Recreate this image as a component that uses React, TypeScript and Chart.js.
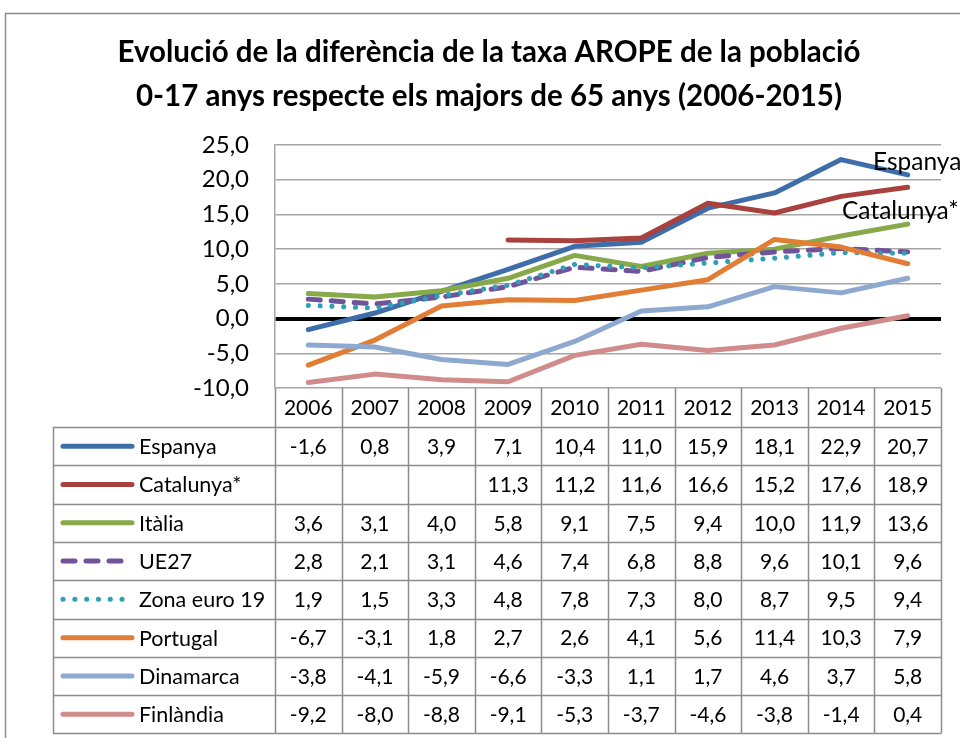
import React, { useEffect, useRef } from "react";
import { Chart, registerables } from "chart.js";

Chart.register(...registerables);

const years = ["2006", "2007", "2008", "2009", "2010", "2011", "2012", "2013", "2014", "2015"];
const espanya = [-1.6, 0.8, 3.9, 7.1, 10.4, 11.0, 15.9, 18.1, 22.9, 20.7];
const catalunya = [null, null, null, 11.3, 11.2, 11.6, 16.6, 15.2, 17.6, 18.9];
const italia = [3.6, 3.1, 4.0, 5.8, 9.1, 7.5, 9.4, 10.0, 11.9, 13.6];
const ue27 = [2.8, 2.1, 3.1, 4.6, 7.4, 6.8, 8.8, 9.6, 10.1, 9.6];
const zonaEuro = [1.9, 1.5, 3.3, 4.8, 7.8, 7.3, 8.0, 8.7, 9.5, 9.4];
const portugal = [-6.7, -3.1, 1.8, 2.7, 2.6, 4.1, 5.6, 11.4, 10.3, 7.9];
const dinamarca = [-3.8, -4.1, -5.9, -6.6, -3.3, 1.1, 1.7, 4.6, 3.7, 5.8];
const finlandia = [-9.2, -8.0, -8.8, -9.1, -5.3, -3.7, -4.6, -3.8, -1.4, 0.4];

const seriesNames = ["Espanya", "Catalunya*", "Itàlia", "UE27", "Zona euro 19", "Portugal", "Dinamarca", "Finlàndia"];
const seriesData = [espanya, catalunya, italia, ue27, zonaEuro, portugal, dinamarca, finlandia];
const seriesColors = ["#3E6DAA", "#A9413F", "#87A94A", "#71539C", "#2F9EB6", "#E17D34", "#8EA9CF", "#D08B8B"];
const seriesDash: number[][] = [[], [], [], [12, 11], [0.1, 11.7], [], [], []];

const titleLines = [
  "Evolució de la diferència de la taxa AROPE de la població",
  "0-17 anys respecte els majors de 65 anys (2006-2015)",
];
const endLabels = ["Espanya", "Catalunya*"];

const Y_MIN = -10;
const Y_MAX = 25;
const Y_STEP = 5;

const FONT = "Lato, 'Open Sans', sans-serif";
const GRID = "#A6A6A6";
const fmt = (v: number) => v.toFixed(1).replace(".", ",");

export default function App() {
  const ref = useRef<HTMLCanvasElement>(null);

  useEffect(() => {
    if (!ref.current) return;

    const TABLE_LEFT = 53;
    const HEADER_H = 39;
    const ROW_H = 38.3;

    const decor = {
      id: "decor",
      beforeDraw(chart: any) {
        const ctx = chart.ctx;
        ctx.save();
        ctx.fillStyle = "#fff";
        ctx.fillRect(0, 0, chart.width, chart.height);
        ctx.strokeStyle = "#8C8C8C";
        ctx.lineWidth = 1.5;
        ctx.beginPath();
        ctx.moveTo(5.5, chart.height + 5);
        ctx.lineTo(5.5, 13.5);
        ctx.lineTo(chart.width + 5, 13.5);
        ctx.stroke();
        // title
        ctx.fillStyle = "#000";
        ctx.font = `bold 29.5px ${FONT}`;
        ctx.textAlign = "center";
        ctx.textBaseline = "middle";
        ctx.fillText(titleLines[0], 489, 52);
        ctx.fillText(titleLines[1], 489, 96);
        ctx.restore();
      },
      afterDraw(chart: any) {
        const ctx = chart.ctx;
        const xs = chart.scales.x;
        const area = chart.chartArea;
        const left = area.left;
        const right = area.right;
        const top = area.bottom;
        const n = years.length;
        const cw = (right - left) / n;
        const tableBottom = top + HEADER_H + ROW_H * seriesNames.length;
        ctx.save();
        // end labels
        ctx.fillStyle = "#000";
        ctx.font = `24.5px ${FONT}`;
        ctx.textAlign = "left";
        ctx.textBaseline = "middle";
        ctx.fillText(endLabels[0], 873, 162);
        ctx.fillText(endLabels[1], 842, 211);

        // table grid
        ctx.strokeStyle = "#8C8C8C";
        ctx.lineWidth = 1.5;
        ctx.beginPath();
        for (let i = 0; i <= n; i++) {
          const x = Math.round(left + i * cw) + 0.5;
          ctx.moveTo(x, top);
          ctx.lineTo(x, tableBottom);
        }
        ctx.moveTo(TABLE_LEFT + 0.5, top + HEADER_H);
        ctx.lineTo(TABLE_LEFT + 0.5, tableBottom);
        for (let r = 0; r <= seriesNames.length; r++) {
          const y = Math.round(top + HEADER_H + r * ROW_H) + 0.5;
          ctx.moveTo(TABLE_LEFT, y);
          ctx.lineTo(right, y);
        }
        ctx.stroke();

        // header
        ctx.font = `21px ${FONT}`;
        ctx.textAlign = "center";
        ctx.fillStyle = "#000";
        years.forEach((yr, i) => {
          ctx.fillText(yr, xs.getPixelForValue(i), top + HEADER_H / 2 + 1);
        });
        // rows
        seriesNames.forEach((name, r) => {
          const cy = top + HEADER_H + r * ROW_H + ROW_H / 2 + 1;
          ctx.save();
          ctx.strokeStyle = seriesColors[r];
          ctx.lineWidth = 5;
          ctx.lineCap = "round";
          ctx.setLineDash(seriesDash[r]);
          ctx.beginPath();
          const x0 = 63;
          const x1 = seriesDash[r].length ? (r === 3 ? 130 : 128) : 132;
          ctx.moveTo(x0, cy - 1);
          ctx.lineTo(x1, cy - 1);
          ctx.stroke();
          ctx.restore();
          ctx.font = `21.5px ${FONT}`;
          ctx.textAlign = "left";
          ctx.fillText(name, 139, cy);
          ctx.font = `21px ${FONT}`;
          ctx.textAlign = "center";
          seriesData[r].forEach((v, i) => {
            if (v === null || v === undefined) return;
            ctx.fillText(fmt(v as number), xs.getPixelForValue(i), cy);
          });
        });
        ctx.restore();
      },
    };

    const chart = new Chart(ref.current, {
      type: "line",
      data: {
        labels: years,
        datasets: seriesNames.map((name, i) => ({
          label: name,
          data: seriesData[i] as any,
          borderColor: seriesColors[i],
          backgroundColor: seriesColors[i],
          borderWidth: 5,
          borderDash: seriesDash[i],
          borderCapStyle: "round" as const,
          borderJoinStyle: "round" as const,
          pointRadius: 0,
          tension: 0,
          spanGaps: false,
          order: seriesNames.length - i,
        })),
      },
      options: {
        animation: false,
        responsive: false,
        maintainAspectRatio: false,
        layout: { padding: { left: 0, right: 19, top: 145, bottom: 350 } },
        plugins: {
          legend: { display: false },
          title: { display: false },
          tooltip: { enabled: false },
        },
        scales: {
          x: {
            type: "category",
            display: false,
            offset: true,
          },
          y: {
            min: Y_MIN,
            max: Y_MAX,
            afterFit(scale: any) {
              scale.width = 275;
            },
            ticks: {
              stepSize: Y_STEP,
              padding: 26,
              color: "#000",
              font: { family: FONT, size: 24 },
              callback: (v: any) => fmt(Number(v)),
            },
            grid: {
              drawTicks: false,
              color: (c: any) => (c.tick && c.tick.value === 0 ? "#000" : GRID),
              lineWidth: (c: any) => (c.tick && c.tick.value === 0 ? 4 : 1.5),
            },
            border: { display: true, color: GRID, width: 1.5 },
          },
        },
      },
      plugins: [decor],
    });
    return () => chart.destroy();
  }, []);

  return (
    <div style={{ position: "fixed", left: 0, top: 0, width: 960, height: 738, background: "#fff" }}>
      <canvas ref={ref} width={960} height={738} style={{ width: 960, height: 738, display: "block" }} />
    </div>
  );
}
